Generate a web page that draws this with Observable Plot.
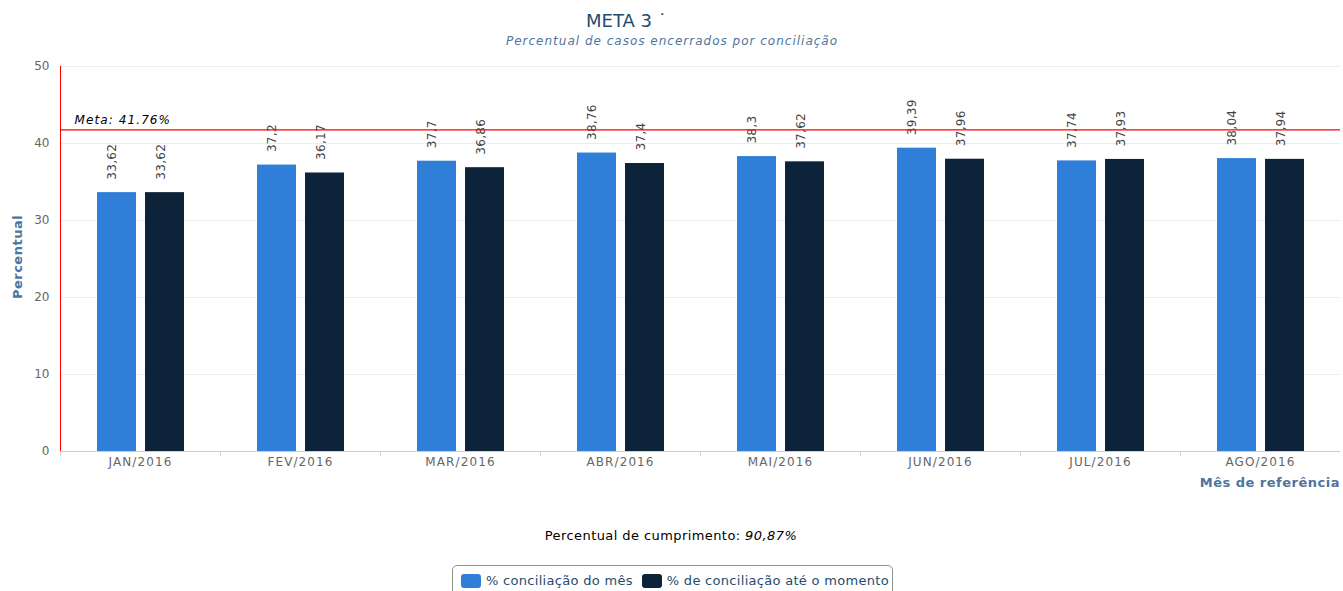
<!DOCTYPE html>
<html>
<head>
<meta charset="utf-8">
<script src="https://cdn.jsdelivr.net/npm/d3@7"></script>
<script src="https://cdn.jsdelivr.net/npm/@observablehq/plot@0.6"></script>
<style>
  html, body { margin: 0; padding: 0; background: #fff; }
  #wrap { position: relative; width: 1343px; height: 591px; overflow: hidden; font-family: "DejaVu Sans", sans-serif; }
  #chart { position: absolute; left: 0; top: 0; }
  #chart svg g[aria-label="x-axis tick label"] text { letter-spacing: 1.1px; }
  #chart svg g[aria-label="text"] text { letter-spacing: 0.3px; }
  #chart svg g[aria-label="text"][font-style="italic"] text { letter-spacing: 1.1px; }
  .abs { position: absolute; white-space: nowrap; }
  #title { left: 586px; top: 10px; font-size: 18px; color: #274b6d; }
  #subtitle { left: 672px; top: 34px; transform: translateX(-50%); font-size: 12px; font-style: italic; color: #4d759e; letter-spacing: 1px; }
  #ylabel { left: 17px; top: 257px; transform: translate(-50%, -50%) rotate(-90deg); font-size: 13px; font-weight: bold; color: #4d759e; letter-spacing: 0.5px; }
  #xlabel { right: 3px; top: 475px; font-size: 13px; font-weight: bold; color: #4d759e; letter-spacing: 0.5px; }
  #footer { left: 671px; top: 528px; transform: translateX(-50%); font-size: 13px; color: #000; letter-spacing: 0.42px; }
  #legend { left: 452px; top: 565px; width: 423px; border: 1px solid #909090; border-radius: 5px; padding: 7px 8px 8px 8px; font-size: 13px; color: #274b6d; display: flex; gap: 9px; letter-spacing: 0.3px; }
  .item { display: flex; align-items: center; gap: 5px; }
  .sw { width: 20px; height: 14px; border-radius: 3px; display: inline-block; }
</style>
</head>
<body>
<div id="wrap">
  <div id="chart"></div>
  <div id="title" class="abs">META 3 ˙</div>
  <div id="subtitle" class="abs">Percentual de casos encerrados por conciliação</div>
  <div id="ylabel" class="abs">Percentual</div>
  <div id="xlabel" class="abs">Mês de referência</div>
  <div id="footer" class="abs"></div>
  <div id="legend" class="abs"></div>
</div>
<script>
const months = ["JAN/2016", "FEV/2016", "MAR/2016", "ABR/2016", "MAI/2016", "JUN/2016", "JUL/2016", "AGO/2016"];
const mesValues = [33.62, 37.2, 37.7, 38.76, 38.3, 39.39, 37.74, 38.04];
const acumValues = [33.62, 36.17, 36.86, 37.4, 37.62, 37.96, 37.93, 37.94];
const seriesNames = ["% conciliação do mês", "% de conciliação até o momento"];
const seriesColors = ["#2f7ed8", "#0d233a"];
const yTicks = [0, 10, 20, 30, 40, 50];
const meta = 41.76;
const cumprimento = "90,87%";

const data = months.map((m, i) => ({month: m, mes: mesValues[i], acum: acumValues[i]}));
const fmt = v => String(v).replace(".", ",");

const chart = Plot.plot({
  width: 1343,
  height: 500,
  marginLeft: 60,
  marginRight: 3,
  marginTop: 66,
  marginBottom: 49,
  style: {fontFamily: "DejaVu Sans, sans-serif", fontSize: "12px", background: "transparent"},
  x: {domain: months, padding: 0, axis: null},
  y: {domain: [0, 50], axis: null},
  marks: [
    Plot.gridY(yTicks, {stroke: "#ececec", strokeOpacity: 1}),
    Plot.axisY(yTicks, {tickSize: 0, tickPadding: 11, fill: "#666", label: null, fontSize: 12}),
    Plot.barY(data, {x: "month", y: "mes", fill: seriesColors[0], insetLeft: 37, insetRight: 84}),
    Plot.barY(data, {x: "month", y: "acum", fill: seriesColors[1], insetLeft: 85, insetRight: 36}),
    Plot.text(data, {x: "month", y: "mes", text: d => fmt(d.mes), rotate: -90, textAnchor: "start", lineAnchor: "middle", dx: -28, dy: -13, fill: "#444", fontSize: 12}),
    Plot.text(data, {x: "month", y: "acum", text: d => fmt(d.acum), rotate: -90, textAnchor: "start", lineAnchor: "middle", dx: 21, dy: -13, fill: "#444", fontSize: 12}),
    Plot.ruleY([0], {stroke: "#C0D0E0"}),
    Plot.ruleX(months, {y1: 0, y2: -0.6, stroke: "#C0D0E0", dx: -80}),
    Plot.ruleX([months[0]], {y1: 0, y2: 50, stroke: "#ff0000", dx: -80}),
    Plot.ruleY([meta], {stroke: "#ff0000", strokeWidth: 1.2}),
    Plot.text([meta], {y: d => d, frameAnchor: "left", dx: 14, dy: -10, text: d => `Meta: ${d}%`, textAnchor: "start", fontStyle: "italic", fill: "#000", fontSize: 12}),
    Plot.axisX({tickSize: 0, tickPadding: 6, fill: "#666", label: null, fontSize: 12})
  ]
});
document.getElementById("chart").appendChild(chart);

document.getElementById("footer").innerHTML = `Percentual de cumprimento: <i>${cumprimento}</i>`;
const legend = document.getElementById("legend");
seriesNames.forEach((name, i) => {
  const it = document.createElement("span");
  it.className = "item";
  it.innerHTML = `<span class="sw" style="background:${seriesColors[i]}"></span><span>${name}</span>`;
  legend.appendChild(it);
});
</script>
</body>
</html>
